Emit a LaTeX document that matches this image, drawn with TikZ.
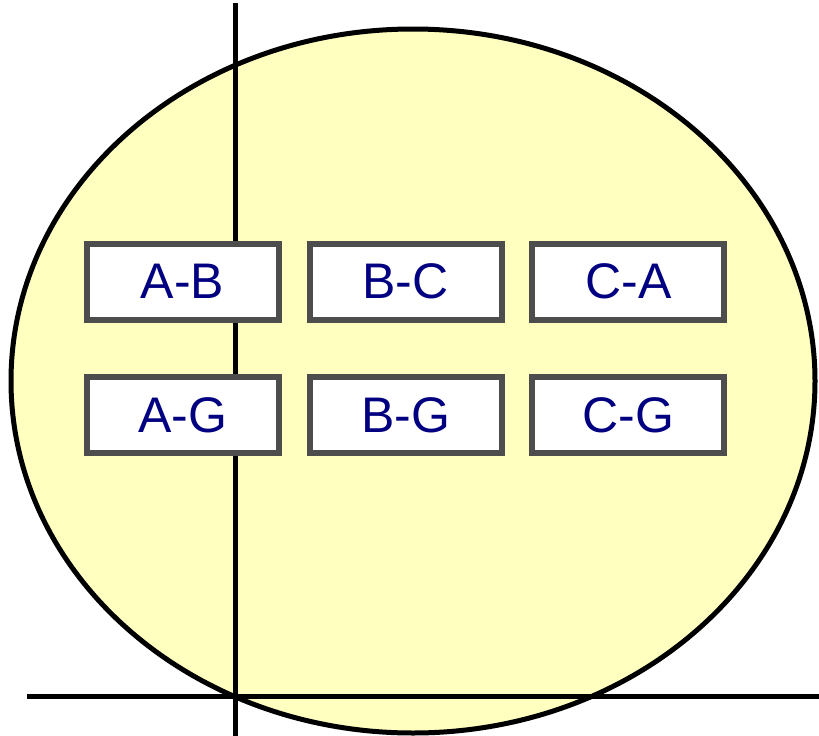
\documentclass[tikz,border=0pt]{standalone}
\usepackage{fontspec}
\setmainfont{Liberation Sans}
\definecolor{pale}{RGB}{255,255,192}
\definecolor{frame}{RGB}{77,77,77}
\definecolor{ink}{RGB}{0,0,128}
\begin{document}
\begin{tikzpicture}[x=1pt,y=-1pt,
  pairbox/.style={draw=frame,line width=6pt,fill=white,minimum width=192pt,minimum height=76pt,inner sep=0pt,text=ink,font=\fontsize{50}{60}\selectfont}]
\useasboundingbox (0,0) rectangle (819,736);
\draw[line width=5pt,fill=pale] (413,381) ellipse [x radius=402,y radius=352];
\draw[line width=5pt] (235,3) -- (235,736);
\draw[line width=5pt] (27,696.5) -- (819,696.5);
\node[pairbox] (ab) at (182.5,281.7){A-B};
\node[pairbox] (bc) at (405.5,281.7){B-C};
\node[pairbox] (ca) at (628.3,281.7){C-A};
\node[pairbox] (ag) at (182.5,415.3){A-G};
\node[pairbox] (bg) at (405.5,415.3){B-G};
\node[pairbox] (cg) at (628.3,415.3){C-G};
\end{tikzpicture}
\end{document}
